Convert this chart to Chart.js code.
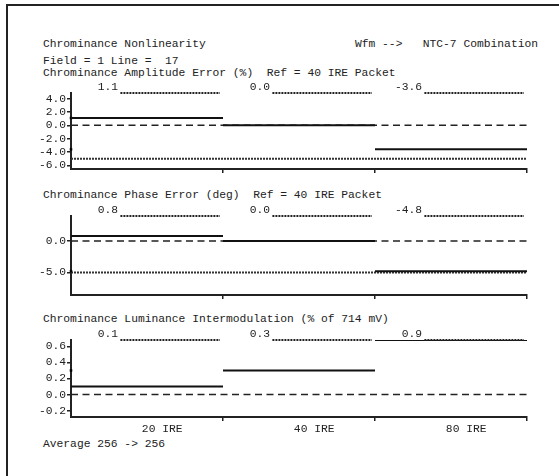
<!DOCTYPE html>
<html>
<head>
<meta charset="utf-8">
<script src="https://cdn.jsdelivr.net/npm/chart.js@4.4.0/dist/chart.umd.min.js"></script>
<style>
  html, body { margin: 0; padding: 0; background: #fff; }
  #page { position: relative; width: 559px; height: 476px; overflow: hidden; }
  #frame { position: absolute; left: 6px; top: 4px; width: 600px; height: 600px;
           border-left: 2px solid #222; border-top: 2px solid #222; }
  .txt { position: absolute; font: 11.3px "Liberation Mono", monospace; line-height: 13px;
         color: #222; white-space: pre; }
  canvas { position: absolute; left: 0; }
</style>
</head>
<body>
<div id="page">
  <div id="frame"></div>
  <div class="txt" style="left:43px;top:38px">Chrominance Nonlinearity</div>
  <div class="txt" style="right:21px;top:38px">Wfm -->   NTC-7 Combination</div>
  <div class="txt" style="left:43px;top:55px">Field = 1 Line =  17</div>
  <div class="txt" style="left:43px;top:67px">Chrominance Amplitude Error (%)  Ref = 40 IRE Packet</div>
  <div class="txt" style="left:43px;top:189px">Chrominance Phase Error (deg)  Ref = 40 IRE Packet</div>
  <div class="txt" style="left:43px;top:313px">Chrominance Luminance Intermodulation (% of 714 mV)</div>
  <div class="txt" style="left:43px;top:438px">Average 256 -> 256</div>

  <canvas id="ampChart" width="559" height="108" style="top:69px"></canvas>
  <canvas id="phaseChart" width="559" height="111" style="top:192px"></canvas>
  <canvas id="lumChart" width="559" height="123" style="top:316px"></canvas>
</div>

<script>
// packets along the line
const irePackets = ['20 IRE', '40 IRE', '80 IRE'];

// chrominance amplitude error (%)
const ampValues = [1.1, 0.0, -3.6];
const ampTicks = [4, 2, 0, -2, -4, -6];
const ampMarks = [1.1, -3.6];
const ampLimit = -5;

// chrominance phase error (deg)
const phaseValues = [0.8, 0.0, -4.8];
const phaseTicks = [0, -5];
const phaseMarks = [-4.8];
const phaseLimit = -5;

// chroma/luma intermodulation (% of 714 mV)
const lumValues = [0.1, 0.3, 0.9];
const lumTicks = [0.6, 0.4, 0.2, 0, -0.2];
const lumMarks = [0.3];

const FONT_FAMILY = '"Liberation Mono", monospace';
const FONT_SIZE = 11.3;
const INK = '#222';
const DOTS = [2, 1];

// value readout above each packet, underlined to the end of the packet
const valueRow = {
    id: 'valueRow',
    afterDraw(chart, args, opts) {
        const ctx = chart.ctx;
        const area = chart.chartArea;
        const x = chart.scales.x;
        ctx.save();
        ctx.font = FONT_SIZE + 'px ' + FONT_FAMILY;
        ctx.fillStyle = INK;
        ctx.textBaseline = 'alphabetic';
        ctx.textAlign = 'right';
        opts.values.forEach((v, i) => {
            ctx.fillText(v.toFixed(1), x.getPixelForValue(i + 0.31), area.top - 3);
            ctx.strokeStyle = '#222';
            ctx.lineWidth = 2;
            ctx.setLineDash(DOTS);
            ctx.beginPath();
            ctx.moveTo(x.getPixelForValue(i + 0.325), area.top);
            ctx.lineTo(x.getPixelForValue(i + 0.98), area.top);
            ctx.stroke();
        });
        if (opts.labels) {
            ctx.textAlign = 'center';
            opts.labels.forEach((label, i) => {
                ctx.fillText(label, x.getPixelForValue(i + 0.6), area.bottom + 15);
            });
        }
        ctx.restore();
    }
};

function buildPanel(id, values, ticks, marks, limit, yMin, yMax, bottomRoom, labels) {
    const datasets = [];

    // one flat line per packet, off-scale values pinned to the top
    values.forEach((v, i) => {
        const y = Math.min(v, yMax);
        datasets.push({
            data: [{ x: i, y: y }, { x: i + 1, y: y }],
            borderColor: '#111',
            borderWidth: 2,
            pointRadius: 0
        });
    });

    // markers on the axis
    datasets.push({
        data: marks.map(v => ({ x: 0, y: v })),
        showLine: false,
        pointStyle: 'rect',
        pointRadius: 1.8,
        backgroundColor: '#000',
        borderColor: '#000',
        borderWidth: 0,
        clip: false
    });

    // zero reference
    datasets.push({
        data: [{ x: 0, y: 0 }, { x: values.length, y: 0 }],
        borderColor: '#222',
        borderWidth: 1.5,
        borderDash: [7, 4.5],
        pointRadius: 0
    });

    if (limit !== null) {
        datasets.push({
            data: [{ x: 0, y: limit }, { x: values.length, y: limit }],
            borderColor: '#333',
            borderWidth: 2,
            borderDash: DOTS,
            pointRadius: 0
        });
    }

    return new Chart(document.getElementById(id), {
        type: 'line',
        data: { datasets: datasets },
        options: {
            responsive: false,
            animation: false,
            events: [],
            layout: { padding: { top: 24, right: 32, bottom: 0, left: 0 } },
            plugins: {
                legend: { display: false },
                tooltip: { enabled: false },
                valueRow: { values: values, labels: labels }
            },
            scales: {
                x: {
                    type: 'linear',
                    min: 0,
                    max: values.length,
                    ticks: { stepSize: 1, display: false },
                    grid: {
                        drawOnChartArea: false,
                        tickLength: 4,
                        lineWidth: 1.5,
                        color: c => (c.tick && c.tick.value === 0) ? 'rgba(0,0,0,0)' : '#222'
                    },
                    border: { color: '#222', width: 2, dash: DOTS },
                    afterFit: s => { s.height = bottomRoom; }
                },
                y: {
                    min: yMin,
                    max: yMax,
                    afterBuildTicks: s => { s.ticks = ticks.map(v => ({ value: v })); },
                    ticks: {
                        autoSkip: false,
                        padding: 1,
                        color: INK,
                        font: { family: FONT_FAMILY, size: FONT_SIZE },
                        callback: v => v.toFixed(1)
                    },
                    grid: { drawOnChartArea: false, tickLength: 4, lineWidth: 1.5, color: '#222' },
                    border: { color: '#222', width: 2, dash: DOTS },
                    afterFit: s => { s.width = 71; }
                }
            }
        },
        plugins: [valueRow]
    });
}

buildPanel('ampChart', ampValues, ampTicks, ampMarks, ampLimit, -6.55, 4.85, 8, null);
buildPanel('phaseChart', phaseValues, phaseTicks, phaseMarks, phaseLimit, -8.6, 4.0, 8, null);
buildPanel('lumChart', lumValues, lumTicks, lumMarks, null, -0.28, 0.68, 22, irePackets);
</script>
</body>
</html>
